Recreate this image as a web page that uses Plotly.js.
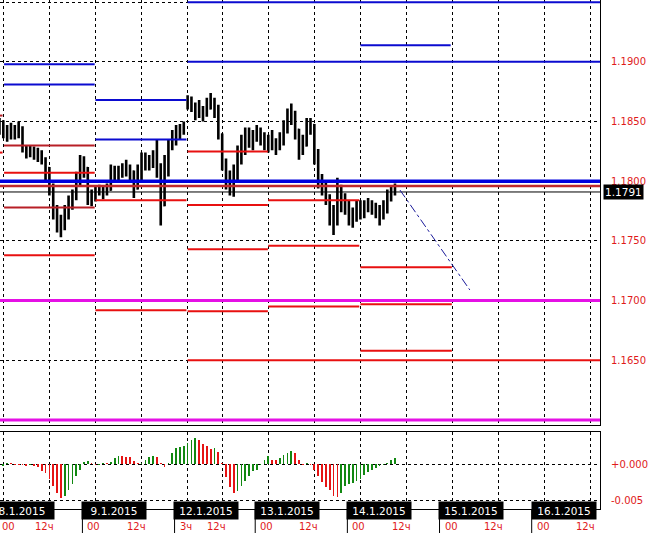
<!DOCTYPE html>
<html>
<head>
<meta charset="utf-8">
<script src="https://cdn.plot.ly/plotly-3.0.1.min.js"></script>
<style>html,body{margin:0;padding:0;background:#fff;}#chart{width:656px;height:533px;}</style>
</head>
<body>
<div id="chart"></div>
<script>
// ---- data (hours counted from 8.1.2015 00:00, trading hours only) ----
const barHour = [-1,0,1,2,3,4,5,6,7,8,9,10,11,12,13,14,15,16,17,18,19,20,21,22,23,24,25,26,27,28,29,30,31,32,33,34,35,36,37,38,39,40,41,42,43,44,45,46,47,48,49,50,51,52,53,54,55,56,57,58,59,60,61,62,63,64,65,66,67,68,69,70,71,72,73,74,75,76,77,78,79,80,81,82,83,84,85,86,87,88,89,90,91,92,93,94,95,96,97,98,99,100,101,102];
const openP = [1.1850,1.1847,1.1845,1.1839,1.1843,1.1841,1.1845,1.1828,1.1824,1.1826,1.1823,1.1822,1.1819,1.1811,1.1797,1.1776,1.1763,1.1761,1.1769,1.1780,1.1786,1.1797,1.1816,1.1811,1.1791,1.1784,1.1791,1.1793,1.1791,1.1793,1.1805,1.1808,1.1806,1.1809,1.1811,1.1808,1.1794,1.1801,1.1818,1.1817,1.1816,1.1819,1.1814,1.1780,1.1805,1.1828,1.1835,1.1839,1.1841,1.1871,1.1868,1.1864,1.1858,1.1860,1.1855,1.1861,1.1868,1.1861,1.1839,1.1818,1.1805,1.1797,1.1803,1.1818,1.1826,1.1835,1.1839,1.1835,1.1841,1.1839,1.1835,1.1830,1.1835,1.1828,1.1833,1.1841,1.1851,1.1858,1.1843,1.1826,1.1830,1.1845,1.1847,1.1826,1.1805,1.1797,1.1788,1.1776,1.1766,1.1784,1.1788,1.1780,1.1772,1.1768,1.1776,1.1774,1.1778,1.1780,1.1778,1.1776,1.1769,1.1774,1.1784,1.1791];
const highP = [1.1853,1.1851,1.1847,1.1849,1.1847,1.1850,1.1846,1.1830,1.1830,1.1829,1.1828,1.1826,1.1820,1.1812,1.1798,1.1780,1.1772,1.1780,1.1788,1.1793,1.1808,1.1822,1.1821,1.1812,1.1793,1.1796,1.1797,1.1796,1.1798,1.1814,1.1813,1.1813,1.1815,1.1818,1.1814,1.1809,1.1814,1.1824,1.1824,1.1822,1.1826,1.1835,1.1815,1.1822,1.1835,1.1843,1.1847,1.1848,1.1850,1.1872,1.1871,1.1866,1.1868,1.1863,1.1870,1.1874,1.1870,1.1864,1.1840,1.1819,1.1809,1.1814,1.1830,1.1839,1.1845,1.1845,1.1843,1.1847,1.1845,1.1841,1.1839,1.1843,1.1836,1.1841,1.1851,1.1861,1.1865,1.1859,1.1844,1.1839,1.1853,1.1853,1.1848,1.1827,1.1806,1.1801,1.1789,1.1780,1.1803,1.1797,1.1790,1.1784,1.1778,1.1784,1.1784,1.1784,1.1786,1.1784,1.1782,1.1780,1.1784,1.1793,1.1796,1.1798];
const lowP = [1.1839,1.1836,1.1833,1.1835,1.1835,1.1836,1.1824,1.1819,1.1820,1.1818,1.1816,1.1814,1.1801,1.1788,1.1768,1.1757,1.1753,1.1759,1.1768,1.1776,1.1784,1.1796,1.1803,1.1780,1.1779,1.1783,1.1788,1.1785,1.1788,1.1792,1.1801,1.1799,1.1803,1.1804,1.1801,1.1786,1.1793,1.1800,1.1809,1.1809,1.1811,1.1803,1.1763,1.1779,1.1804,1.1826,1.1830,1.1835,1.1839,1.1860,1.1858,1.1851,1.1853,1.1850,1.1854,1.1860,1.1853,1.1835,1.1809,1.1793,1.1788,1.1787,1.1801,1.1814,1.1822,1.1828,1.1826,1.1833,1.1830,1.1826,1.1824,1.1826,1.1822,1.1826,1.1830,1.1840,1.1847,1.1835,1.1818,1.1822,1.1829,1.1839,1.1814,1.1794,1.1788,1.1780,1.1763,1.1755,1.1763,1.1774,1.1772,1.1763,1.1761,1.1766,1.1768,1.1769,1.1774,1.1772,1.1769,1.1763,1.1768,1.1773,1.1783,1.1788];
const closeP = [1.1847,1.1845,1.1839,1.1843,1.1841,1.1845,1.1828,1.1824,1.1826,1.1823,1.1822,1.1819,1.1811,1.1797,1.1776,1.1763,1.1761,1.1769,1.1780,1.1786,1.1797,1.1816,1.1811,1.1791,1.1784,1.1791,1.1793,1.1791,1.1793,1.1805,1.1808,1.1806,1.1809,1.1811,1.1808,1.1794,1.1801,1.1818,1.1817,1.1816,1.1819,1.1814,1.1780,1.1805,1.1828,1.1835,1.1839,1.1841,1.1845,1.1868,1.1864,1.1858,1.1860,1.1855,1.1861,1.1868,1.1861,1.1839,1.1818,1.1805,1.1797,1.1803,1.1818,1.1826,1.1835,1.1839,1.1835,1.1841,1.1839,1.1835,1.1830,1.1835,1.1828,1.1833,1.1841,1.1851,1.1858,1.1843,1.1826,1.1830,1.1845,1.1847,1.1826,1.1805,1.1797,1.1788,1.1776,1.1766,1.1784,1.1788,1.1780,1.1772,1.1768,1.1776,1.1774,1.1778,1.1780,1.1778,1.1776,1.1769,1.1774,1.1784,1.1791,1.1791];
const oscValue = [-0.0006,-0.0003,0.0001,0.0001,-0.0001,-0.0001,-0.0002,-0.0003,-0.0002,-0.0003,-0.0004,-0.0009,-0.0012,-0.0020,-0.0030,-0.0040,-0.0046,-0.0043,-0.0036,-0.0027,-0.0017,-0.0008,0.0003,0.0004,0.0002,-0.0002,-0.0001,0.0001,0.0001,0.0003,0.0008,0.0011,0.0011,0.0010,0.0009,0.0004,0.0001,0.0002,0.0005,0.0010,0.0011,0.0009,0.0002,-0.0004,0.0002,0.0015,0.0022,0.0023,0.0024,0.0029,0.0033,0.0036,0.0033,0.0027,0.0025,0.0021,0.0022,0.0017,0.0002,-0.0018,-0.0032,-0.0040,-0.0037,-0.0030,-0.0023,-0.0017,-0.0010,-0.0008,-0.0002,0.0006,0.0011,0.0006,0.0006,0.0008,0.0012,0.0015,0.0018,0.0015,0.0006,-0.0001,0.0001,-0.0001,-0.0008,-0.0017,-0.0025,-0.0031,-0.0036,-0.0043,-0.0045,-0.0040,-0.0030,-0.0027,-0.0026,-0.0023,-0.0021,-0.0015,-0.0011,-0.0008,-0.0005,-0.0003,-0.0002,0.0001,0.0005,0.0008];

// horizontal levels: [startHour, endHour, price]
const blueLevels = [[48,160,1.1950],[48,160,1.1900],[93,116.5,1.1914],[0.2,23.8,1.1898],[0.2,23.8,1.1881],[24,47.7,1.1868],[24,47.7,1.1835]];
const keyBlueLevels = [[-5,160,1.1800]];
const redLevels = [[0.2,23.8,1.1807],[0.2,23.8,1.1738],[24,47.7,1.1784],[24,47.7,1.1692],[48,68.9,1.1825],[48,68.9,1.1780],[48,68.9,1.1743],[48,68.9,1.1691],[69,92.7,1.1784],[69,92.7,1.1746],[69,92.7,1.1695],[93,116.8,1.1728],[93,116.8,1.1697],[93,116.8,1.1658],[48,160,1.1650],[-5,-0.2,1.1824]];
const darkRedLevels = [[0.2,23.8,1.1830],[0.2,23.8,1.1778],[-5,-0.2,1.1855],[-5,160,1.1796]];
const magentaLevels = [[-5,160,1.1700],[-5,160,1.1600]];
const bidPrice = 1.1791;
const trendHour = [103.3,121.5];
const trendPrice = [1.17926,1.17089];

// time axis
const gridHours = [0,12,24,36,48,57,69,81,93,105,117,129,141,153];
const dayStart = [0,24,48,69,93,117,141];
const dayLabels = ['8.1.2015','9.1.2015','12.1.2015','13.1.2015','14.1.2015','15.1.2015','16.1.2015'];
const hourTickHour = [0,12,24,36,48,57,69,81,93,105,117,129,141,153];
const hourTickText = ['00','12ч','00','12ч','3ч','12ч','00','12ч','00','12ч','00','12ч','00','12ч'];
const priceTicks = [1.1650,1.1700,1.1750,1.1800,1.1850,1.1900,1.1950];
const oscTicks = [0,-0.005];
const oscTickText = ['+0.000','-0.005'];

// ---- build ----
const RED_TXT = '#e01a1a';
function segTrace(levels, color, width){
  const x=[], y=[];
  levels.forEach(l=>{ x.push(l[0],l[1],null); y.push(l[2],l[2],null); });
  return {type:'scatter', mode:'lines', x:x, y:y, xaxis:'x2', yaxis:'y',
    line:{color:color, width:width}, hoverinfo:'skip', connectgaps:false};
}
const oscColors = oscValue.map((v,i)=> (i>0 && v>oscValue[i-1]) ? '#118811' : '#e51414');

const traces = [
  {type:'bar', x:barHour, y:oscValue, xaxis:'x', yaxis:'y2', width:0.45,
   marker:{color:oscColors, line:{width:0}}, hoverinfo:'skip'},
  {type:'ohlc', x:barHour, open:openP, high:highP, low:lowP, close:closeP, xaxis:'x2', yaxis:'y',
   increasing:{line:{color:'#000', width:2.6}}, decreasing:{line:{color:'#000', width:2.6}},
   tickwidth:0.3, hoverinfo:'skip'},
  segTrace(darkRedLevels.slice(0,3), '#b81f26', 2),
  segTrace(darkRedLevels.slice(3), '#c0282d', 2.5),
  segTrace(redLevels, '#e81010', 2),
  segTrace(blueLevels, '#0b0bd0', 2),
  segTrace(keyBlueLevels, '#0000dd', 3.5),
  segTrace(magentaLevels, '#e510e5', 3),
  {type:'scatter', mode:'lines', x:[-5,160], y:[bidPrice,bidPrice], xaxis:'x2', yaxis:'y',
   line:{color:'#000', width:1}, hoverinfo:'skip'},
  {type:'scatter', mode:'lines', x:trendHour, y:trendPrice, xaxis:'x2', yaxis:'y',
   line:{color:'#1a1a9a', width:1, dash:'dashdot'}, hoverinfo:'skip'}
];

const plotH = 533 - 24;
const xRange = [-0.86, 155.39];
const gridStyle = {showgrid:true, gridcolor:'#000', gridwidth:1, griddash:'3px,3px'};
const annotations = [];
dayStart.forEach((h,i)=>{
  annotations.push({x:h+4.9, xref:'x', y:(plotH-510)/plotH, yref:'paper', text:dayLabels[i],
    showarrow:false, xanchor:'center', yanchor:'middle', bgcolor:'#000', width:62, height:15,
    font:{family:'DejaVu Sans', size:10.5, color:'#fff'}});
});
hourTickHour.forEach((h,i)=>{
  const is12 = hourTickText[i]==='12ч';
  const first = (i===0);
  annotations.push({x: first ? xRange[0] : h + (is12 ? -1.4 : -0.4), xref:'x',
    y:(plotH-526)/plotH, yref:'paper', text:hourTickText[i],
    showarrow:false, xanchor: first ? 'left' : 'center', yanchor:'middle',
    font:{family:'DejaVu Sans', size:10, color:RED_TXT}});
});
annotations.push({x:1, xref:'paper', xanchor:'left', xshift:3, y:bidPrice, yref:'y', yanchor:'middle',
  text:'1.1791', showarrow:false, bgcolor:'#000', borderpad:1,
  font:{family:'DejaVu Sans', size:10.5, color:'#fff'}});

const shapes = dayStart.slice(1).map(h=>({type:'line', xref:'x', yref:'paper',
  x0:h-3.4, x1:h-3.4, y0:0, y1:-24/plotH, line:{color:'#000', width:1}}));

const layout = {
  width:656, height:533, margin:{l:0, r:56, t:0, b:24, pad:0},
  paper_bgcolor:'#fff', plot_bgcolor:'#fff', showlegend:false,
  font:{family:'DejaVu Sans', size:10, color:RED_TXT},
  bargap:0,
  xaxis: Object.assign({domain:[0,1], anchor:'y2', range:xRange, tickvals:gridHours,
    showticklabels:false, ticks:'', zeroline:false, showline:true, linecolor:'#000', linewidth:1,
    mirror:true, rangeslider:{visible:false}, fixedrange:true}, gridStyle),
  xaxis2: Object.assign({domain:[0,1], anchor:'y', matches:'x', range:xRange, tickvals:gridHours,
    showticklabels:false, ticks:'', zeroline:false, showline:true, linecolor:'#000', linewidth:1,
    rangeslider:{visible:false}, fixedrange:true}, gridStyle),
  yaxis: Object.assign({domain:[(plotH-425)/plotH, 1], anchor:'x2', side:'right',
    range:[1.15958, 1.19518], tickvals:priceTicks, tickformat:'.4f', ticks:'',
    ticklabelstandoff:8, zeroline:false, showline:true, linecolor:'#000', linewidth:1,
    tickfont:{family:'DejaVu Sans', size:10, color:RED_TXT}, fixedrange:true}, gridStyle),
  yaxis2: Object.assign({domain:[0, (plotH-432)/plotH], anchor:'x', side:'right',
    range:[-0.00613, 0.00436], tickvals:oscTicks, ticktext:oscTickText, ticks:'',
    ticklabelstandoff:8, zeroline:false, showline:true, linecolor:'#000', linewidth:1,
    tickfont:{family:'DejaVu Sans', size:10, color:RED_TXT}, fixedrange:true}, gridStyle),
  annotations: annotations,
  shapes: shapes
};

Plotly.newPlot('chart', traces, layout, {displayModeBar:false, staticPlot:true});
</script>
</body>
</html>
